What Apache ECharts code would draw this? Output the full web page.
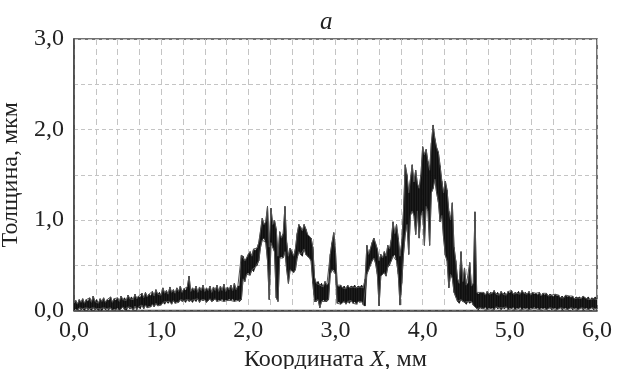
<!DOCTYPE html>
<html>
<head>
<meta charset="utf-8">
<script src="https://cdn.jsdelivr.net/npm/echarts@6/dist/echarts.min.js"></script>
<style>html,body{margin:0;padding:0;background:#fff}#c{width:619px;height:369px}</style>
</head>
<body>
<div id="c"></div>
<script>
// Sampling grid of the profile (mm)
var xStart = 0.0;
var xStep = 0.02;
// Upper edge of the noisy thickness trace (µm), one per sample
var thicknessHigh = [
  0.08,0.11,0.07,0.12,0.09, 0.13,0.08,0.12,0.10,0.14,
  0.09,0.16,0.10,0.12,0.08, 0.13,0.10,0.14,0.09,0.12,
  0.11,0.15,0.09,0.13,0.11, 0.14,0.10,0.16,0.12,0.14,
  0.11,0.17,0.13,0.15,0.12, 0.18,0.13,0.16,0.14,0.19,
  0.14,0.20,0.15,0.18,0.16, 0.21,0.16,0.23,0.18,0.20,
  0.17,0.25,0.19,0.22,0.18, 0.26,0.20,0.23,0.19,0.25,
  0.21,0.27,0.20,0.24,0.22, 0.26,0.38,0.21,0.25,0.22,
  0.27,0.20,0.26,0.22,0.28, 0.21,0.25,0.22,0.27,0.20,
  0.26,0.22,0.28,0.21,0.27, 0.22,0.29,0.21,0.26,0.23,
  0.28,0.22,0.30,0.23,0.27,
  0.27,0.61,0.60,0.55,0.58, 0.62,0.65,0.60,0.68,0.66,
  0.69,0.75,0.88,1.02,0.95, 0.98,1.15,0.70,1.13,0.95,
  1.00,0.90,0.60,0.87,0.80, 0.85,1.15,0.75,0.60,0.69,
  0.65,0.60,0.68,0.85,0.95, 0.92,0.88,0.95,0.90,0.84,
  0.82,0.80,0.70,0.36,0.30, 0.32,0.28,0.30,0.26,0.32,
  0.28,0.30,0.62,0.75,0.86, 0.65,0.28,0.26,0.28,0.25,
  0.27,0.24,0.28,0.25,0.27, 0.26,0.28,0.25,0.27,0.26,
  0.28,0.25,0.35,0.72,0.62, 0.68,0.75,0.80,0.74,0.68,
  0.55,0.62,0.58,0.65,0.60, 0.72,0.68,0.78,0.98,0.85,
  0.95,0.80,0.60,0.75,1.10, 1.61,1.50,1.30,1.45,1.61,
  1.42,1.55,1.40,1.35,1.50, 1.81,1.72,1.78,1.65,1.55,
  1.85,2.05,1.90,1.80,1.75, 1.60,1.43,1.30,1.43,1.33,
  1.10,1.00,1.19,0.70,0.55, 0.35,0.30,0.65,0.32,0.47,
  0.28,0.30,0.53,0.27,0.30, 1.09,0.20,0.18,0.20,0.19,
  0.20,0.17,0.21,0.18,0.20, 0.19,0.22,0.18,0.20,0.17,
  0.21,0.18,0.20,0.17,0.21, 0.19,0.22,0.18,0.20,0.19,
  0.21,0.18,0.22,0.19,0.20, 0.18,0.21,0.17,0.20,0.18,
  0.19,0.17,0.20,0.16,0.19, 0.17,0.19,0.16,0.18,0.17,
  0.15,0.18,0.16,0.17,0.14, 0.16,0.14,0.17,0.15,0.16,
  0.14,0.16,0.13,0.15,0.14, 0.15,0.13,0.16,0.14,0.13,
  0.15,0.12,0.14,0.13,0.15, 0.12
];
// Lower edge of the noisy thickness trace (µm), one per sample
var thicknessLow = [
  0.00,0.02,0.00,0.03,0.01, 0.02,0.00,0.03,0.01,0.02,
  0.00,0.03,0.01,0.02,0.00, 0.02,0.00,0.03,0.01,0.02,
  0.01,0.03,0.00,0.02,0.01, 0.03,0.00,0.02,0.04,0.01,
  0.00,0.04,0.02,0.03,0.00, 0.05,0.01,0.04,0.02,0.06,
  0.02,0.06,0.03,0.05,0.04, 0.07,0.04,0.08,0.05,0.07,
  0.06,0.09,0.07,0.10,0.08, 0.10,0.07,0.11,0.08,0.10,
  0.09,0.12,0.10,0.11,0.09, 0.12,0.10,0.11,0.09,0.12,
  0.10,0.13,0.09,0.12,0.11, 0.12,0.09,0.11,0.13,0.10,
  0.11,0.13,0.10,0.12,0.11, 0.13,0.10,0.12,0.11,0.13,
  0.11,0.13,0.10,0.12,0.11,
  0.10,0.12,0.35,0.32,0.40, 0.42,0.39,0.45,0.43,0.48,
  0.50,0.55,0.70,0.78,0.80, 0.75,0.55,0.12,0.75,0.70,
  0.65,0.14,0.10,0.58,0.60, 0.58,0.65,0.45,0.30,0.45,
  0.44,0.42,0.45,0.58,0.65, 0.62,0.60,0.68,0.62,0.60,
  0.58,0.55,0.30,0.10,0.10, 0.12,0.03,0.10,0.12,0.10,
  0.10,0.12,0.40,0.45,0.45, 0.40,0.08,0.10,0.07,0.09,
  0.10,0.07,0.10,0.08,0.11, 0.08,0.10,0.07,0.10,0.09,
  0.10,0.06,0.05,0.40,0.45, 0.50,0.55,0.58,0.52,0.40,
  0.05,0.38,0.40,0.42,0.38, 0.48,0.50,0.55,0.60,0.62,
  0.55,0.40,0.06,0.30,0.62, 0.84,0.95,0.62,1.05,1.10,
  1.05,0.84,1.10,0.80,1.05, 1.10,0.72,1.15,1.10,0.72,
  1.30,1.35,1.45,1.30,1.20, 0.98,1.05,0.80,0.61,0.55,
  0.25,0.40,0.36,0.20,0.15, 0.10,0.08,0.12,0.10,0.09,
  0.07,0.10,0.08,0.10,0.06, 0.04,0.02,0.01,0.03,0.02,
  0.02,0.04,0.01,0.03,0.02, 0.03,0.01,0.04,0.02,0.03,
  0.01,0.03,0.02,0.04,0.01, 0.03,0.02,0.04,0.01,0.03,
  0.02,0.04,0.01,0.03,0.02, 0.03,0.01,0.03,0.02,0.04,
  0.02,0.03,0.01,0.03,0.02, 0.03,0.01,0.02,0.03,0.01,
  0.02,0.03,0.01,0.02,0.03, 0.01,0.02,0.03,0.01,0.02,
  0.03,0.01,0.02,0.03,0.01, 0.02,0.03,0.01,0.02,0.03,
  0.01,0.02,0.03,0.01,0.02, 0.02
];
var xTicks = [0, 1, 2, 3, 4, 5, 6];
var yTicks = [0, 1, 2, 3];

var serif = '"Liberation Serif","DejaVu Serif",serif';
function xAt(i) { return +(xStart + i * xStep).toFixed(3); }
var bandData = thicknessHigh.map(function (v, i) { return [xAt(i), thicknessLow[i], v]; });
var lowPts = thicknessLow.map(function (v, i) { return [xAt(i), v]; });
var highPts = thicknessHigh.map(function (v, i) { return [xAt(i), v]; });
function fmt(v, ticks) {
  for (var k = 0; k < ticks.length; k++) if (Math.abs(v - ticks[k]) < 1e-6) return ticks[k].toFixed(1).replace('.', ',');
  return '';
}

function renderBand(params, api) {
  var i = params.dataIndex;
  if (i >= bandData.length - 1) return null;
  var a = bandData[i], b = bandData[i + 1];
  var p1 = api.coord([a[0], a[1]]), p2 = api.coord([a[0], a[2]]);
  var p3 = api.coord([b[0], b[2]]), p4 = api.coord([b[0], b[1]]);
  return {
    type: 'polygon',
    shape: {points: [p1, p2, p3, p4]},
    style: {fill: '#111', stroke: '#111', lineWidth: 0.6}
  };
}

var chart = echarts.init(document.getElementById('c'), null, {renderer: 'canvas'});
chart.setOption({
  animation: false,
  title: {
    text: 'a', left: 315, top: 5,
    textStyle: {fontFamily: serif, fontStyle: 'italic', fontWeight: 'normal', fontSize: 25, color: '#222'}
  },
  grid: {left: 74, right: 22, top: 39, bottom: 58.5, containLabel: false, outerBoundsMode: 'none',
         show: true, borderColor: '#444', borderWidth: 1.5, backgroundColor: 'transparent'},
  xAxis: {
    type: 'value', min: 0, max: 6, interval: 0.25,
    name: 'Координата {i|X}, мм', nameLocation: 'middle', nameGap: 30,
    nameTextStyle: {fontFamily: serif, fontSize: 24, color: '#222', rich: {i: {fontFamily: serif, fontSize: 24, fontStyle: 'italic', color: '#222'}}},
    axisLine: {show: true, lineStyle: {color: '#444', width: 1.5}},
    axisTick: {show: false},
    axisLabel: {fontFamily: serif, fontSize: 24, color: '#222', margin: 8, formatter: function (v) { return fmt(v, xTicks); }},
    splitLine: {show: true, lineStyle: {color: '#c4c4c4', type: [6, 4], width: 1}}
  },
  yAxis: {
    type: 'value', min: 0, max: 3, interval: 0.5,
    name: 'Толщина, мкм', nameLocation: 'middle', nameGap: 44,
    nameTextStyle: {fontFamily: serif, fontSize: 24, color: '#222'},
    axisLine: {show: true, lineStyle: {color: '#444', width: 1.5}},
    axisTick: {show: false},
    axisLabel: {fontFamily: serif, fontSize: 24, color: '#222', margin: 10, formatter: function (v) { return fmt(v, yTicks); }},
    splitLine: {show: true, lineStyle: {color: '#c4c4c4', type: [4, 3], width: 1}}
  },
  series: [{
    name: 'band', type: 'custom', data: bandData, renderItem: renderBand,
    encode: {x: 0, y: [1, 2]}, clip: true, silent: true
  }, {
    name: 'low', type: 'line', data: lowPts, symbol: 'none',
    lineStyle: {color: '#555', width: 1}, clip: true
  }, {
    name: 'high', type: 'line', data: highPts, symbol: 'none',
    lineStyle: {color: '#555', width: 1}, clip: true
  }]
});
</script>
</body>
</html>
